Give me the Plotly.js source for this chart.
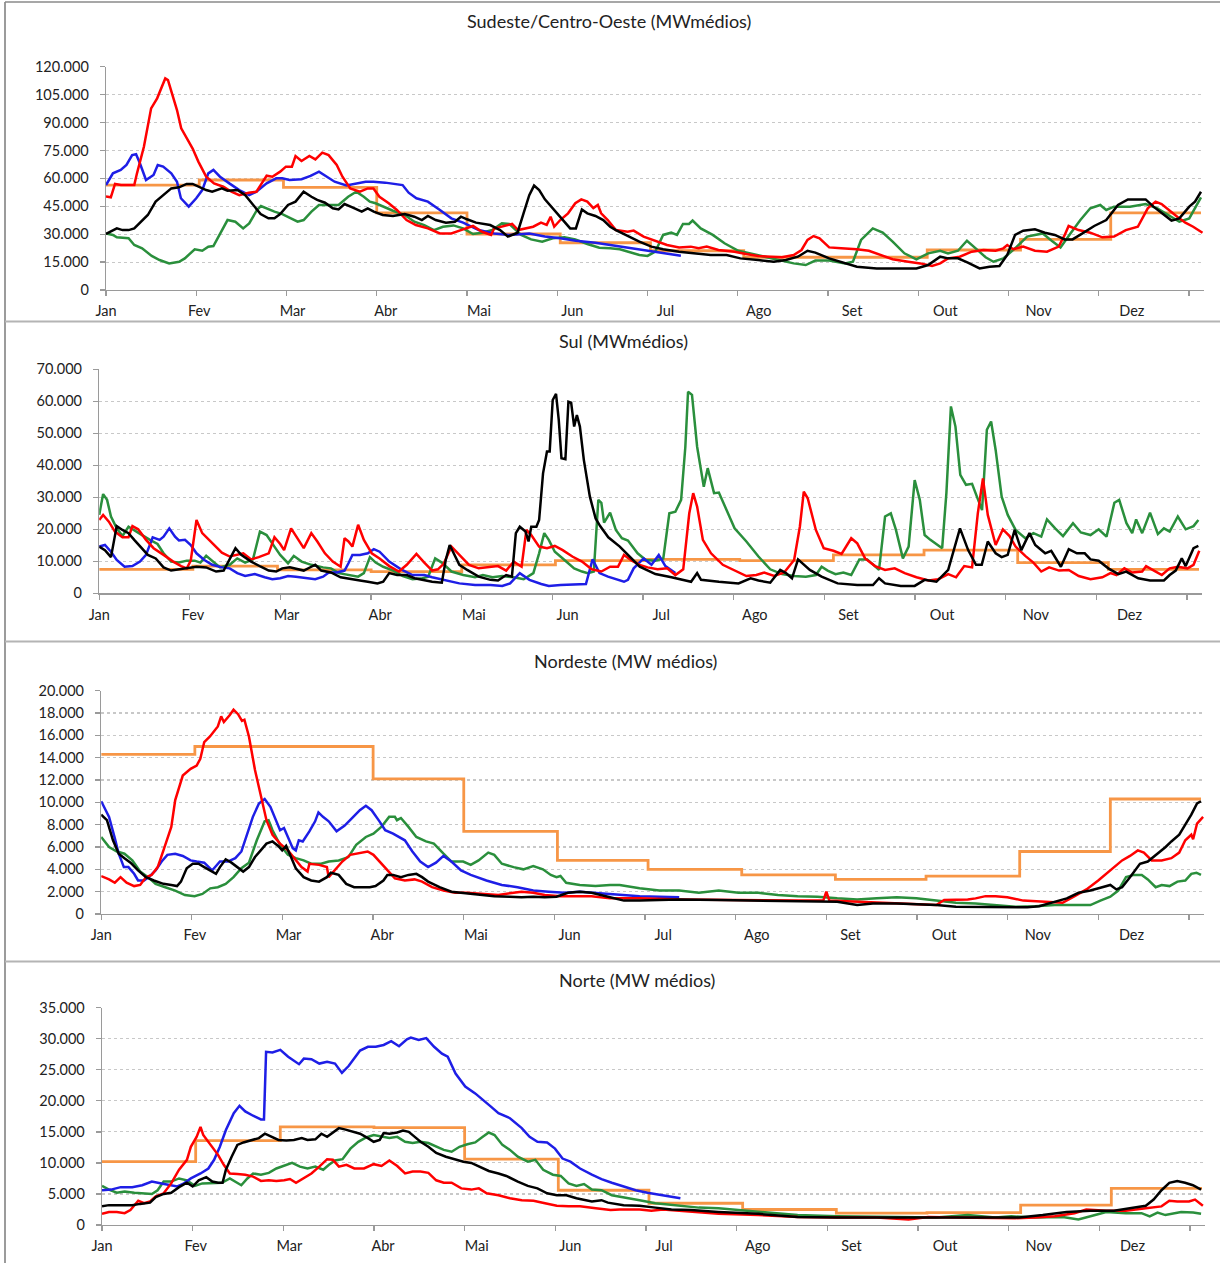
<!DOCTYPE html>
<html>
<head>
<meta charset="utf-8">
<script src="https://cdn.plot.ly/plotly-3.0.1.min.js"></script>
<style>
  html, body { margin: 0; padding: 0; background: #ffffff; }
  #chart { width: 1220px; height: 1267px; }
</style>
</head>
<body>
<div id="chart"></div>
<script>
// ---------------- DATA ----------------
// x = day of year (0 = 1 Jan), y = MWmédios
const monthLabels = ['Jan','Fev','Mar','Abr','Mai','Jun','Jul','Ago','Set','Out','Nov','Dez'];
const monthLabelDays = [0,31,62,93,124,155,186,217,248,279,310,341];
const tickMarkDays = [0,30,60,90,120,150,180,210,240,270,300,330,360];
const monthStartDays = [0,31,59,90,120,151,181,212,243,273,304,334];
const lastDay = 364;

// ---- Sudeste/Centro-Oeste ----
const seRed = [[0,50200],[1.6,49800],[3,57000],[5,56400],[9.4,56400],[10.3,62700],[12.6,77000],[15,97600],[17,103000],[19.7,113700],[20.6,112800],[22.3,104000],[23.6,96700],[25,86900],[26.8,81500],[28.8,76000],[30.7,69000],[33.3,60900],[35.9,57300],[39,55500],[41.7,52800],[44.3,51000],[47.5,52300],[50,52800],[51.4,56400],[53.4,61400],[55.3,60900],[57.9,63600],[59.8,66300],[61.8,66300],[63,72000],[65,69300],[67.6,72000],[69.6,70200],[71.9,73800],[74,72500],[76.7,67200],[78.6,60900],[81.2,54600],[84.4,52800],[87,54600],[88.9,54600],[90.9,50100],[94,46600],[96.7,43000],[99.9,37600],[103,34900],[107,33100],[111,30400],[114.8,30400],[118.7,32600],[122,34400],[125,31300],[128,29600],[129,33000],[133,34400],[135,35500],[137,32200],[139.4,33000],[142,34000],[144.6,36200],[146.5,35000],[147.8,39400],[149,34000],[151,37600],[153.6,41200],[156,46600],[158,48700],[160,47500],[162,44000],[163.5,45700],[164.6,41200],[166.8,37600],[169.5,32200],[173.4,31300],[175.4,31900],[178.7,28700],[182.6,26500],[186.5,24200],[190.5,22900],[194.4,23300],[197,22400],[199.7,23300],[203.6,21500],[208.9,20600],[212.8,19300],[216.8,18300],[220.7,17900],[224.7,17600],[228.6,18800],[231.2,21500],[233.2,26900],[235.2,29000],[237.2,27800],[240.4,22900],[244.4,22400],[249.6,21900],[253.6,21100],[257.5,18800],[261.5,16500],[266.7,15200],[270.7,14300],[274.6,12900],[277.3,14300],[279.9,17000],[283.8,17900],[287.8,20600],[291.7,21500],[295.7,21100],[298.3,22400],[299.6,24200],[301.6,21900],[304.9,23300],[308.8,21100],[312.8,20600],[316.7,23300],[318.7,29600],[320,34400],[323.3,32200],[327.2,30800],[331.2,28300],[335.1,28700],[339,32200],[343,34000],[346.3,43900],[348.9,47500],[350.9,46200],[353.5,42600],[356.1,39400],[358.8,36200],[361.4,34000],[364.5,30800]];
const seBlue = [[0,56400],[2.3,62700],[4.9,64500],[6.8,67200],[8.7,72500],[10,73000],[11.3,68000],[13.3,59100],[15.8,61800],[17.2,67200],[19,66300],[21.7,62700],[23.6,58200],[24.9,49300],[27.5,44800],[30,49300],[32,53700],[34,62700],[35.7,64500],[37.9,60900],[41,57300],[44.3,53700],[47.6,51000],[50,52800],[53.4,57300],[56.6,60000],[58.6,60000],[61,59100],[65,59500],[68,61300],[70.8,63600],[73.4,60900],[76,58200],[79.9,56200],[83,57000],[86.3,58200],[88.9,58200],[92.8,57700],[98.6,56400],[100.6,52300],[103.2,49300],[107,47500],[111,43000],[114.8,38500],[118.7,36200],[123.9,32200],[129,30400],[134,29600],[140.7,30400],[145.9,28700],[151,27800],[156.2,26500],[162.7,25400],[167.6,24200],[170.8,23300],[177.3,21900],[181.3,21100],[185.2,20100],[191.1,18400]];
const seGreen = [[0,30400],[2.3,29600],[3.6,28300],[7.5,27800],[9.4,24200],[12,22400],[15.2,18300],[17.8,16100],[21,14300],[23,14900],[24.3,15200],[26.2,17000],[28.2,19700],[29.5,21900],[32,21100],[34,23300],[35.7,23600],[37.9,30400],[40.4,37600],[43,36700],[45.6,33100],[47.6,35800],[50.2,43000],[51.5,45100],[54,43300],[56,42100],[58.6,40800],[61.1,39000],[63.7,36700],[65.7,37600],[68.3,42100],[70.8,45700],[74,45700],[77.3,45700],[80.5,50100],[83.2,52800],[85.7,50100],[87.7,47500],[89.6,46600],[92,44800],[95.4,42600],[99.3,40300],[102.5,36700],[105.8,34900],[109,32200],[112,34000],[115.5,34700],[118.7,33100],[122,30100],[125,30800],[128.4,32200],[131.6,35800],[134,35500],[138,29600],[141.3,27200],[145,26000],[148.5,27800],[152.4,28300],[156,27200],[160,24700],[164,22700],[167.6,22400],[170.8,21900],[177.3,18800],[180,18300],[182.6,20600],[185.2,29600],[187.9,30800],[189.8,29600],[191.8,35500],[193.8,35500],[195,37300],[197.7,33100],[201.7,29600],[205.6,25100],[210.2,21100],[214.8,19300],[219.4,17600],[223.4,16100],[228.6,14300],[232.6,13400],[235.8,15800],[240.4,15800],[245.7,14300],[248.3,15200],[251,26900],[254.9,33100],[258.2,30800],[261.5,26000],[265.4,19700],[269.4,16500],[273.3,19700],[277.3,21100],[279.9,19700],[283.2,21100],[286.2,26500],[289.1,22400],[292.4,17600],[295,15200],[298.3,17000],[302.2,22400],[306.2,28700],[308.8,29600],[311.4,30400],[314.7,26000],[317.3,22900],[320.6,30400],[323.9,37600],[327.2,43900],[330.5,45700],[332.5,43000],[335.1,44800],[340.4,44800],[345.6,46200],[349.5,43900],[353.5,39800],[356.8,36700],[360.1,38500],[362,43900],[364,49800]];
const seBlack = [[0,30100],[2.3,32200],[3.6,33100],[5.5,32200],[7.5,32200],[9.4,33100],[11.3,36200],[13.9,40300],[16.5,47500],[19.1,51000],[21.7,54600],[24.3,55200],[26.8,57000],[28.8,57000],[30.7,55500],[33.3,53700],[35.3,52800],[38.5,54600],[40.4,53400],[43.7,53700],[46.3,51000],[48.8,45700],[51.4,40800],[54,38500],[56,38500],[57.9,40800],[60.5,45700],[63,47500],[65.7,52800],[68.3,50100],[70.2,48400],[72.8,46900],[75.4,43900],[77.3,43300],[79.3,46200],[81.9,44400],[85,42100],[87,43900],[89,42100],[92,40300],[95.4,39800],[99.3,40800],[102.5,39400],[105,37600],[107,39800],[109.6,37600],[113,36200],[116,36700],[118,39400],[120,38000],[123,36200],[127.7,34900],[131,32200],[133.6,28700],[136.8,30800],[138.8,41200],[140.7,51000],[142.3,56100],[144,53700],[145.9,48700],[148.5,43900],[151.7,37600],[154.3,33100],[156.2,33100],[158.2,43300],[160,41200],[162.7,39800],[165.3,37600],[167.6,34000],[169.5,32200],[173.4,29000],[177.3,26000],[181.3,23300],[185.2,21900],[190.5,20600],[195.8,19700],[201,18800],[206.3,18800],[210.9,17000],[216.8,16100],[222,15200],[226,16100],[230,17900],[233.2,21100],[235.8,20100],[240.4,17000],[245.7,14300],[249.6,12500],[256.2,11600],[262.8,11600],[269.4,11600],[273.3,13400],[277.3,17900],[279.9,17000],[283.2,17000],[286.5,14700],[290.4,11600],[293.7,12500],[297,12900],[299.6,18800],[302.2,29600],[304.9,31900],[308.8,32600],[312.1,30800],[315.4,29600],[318.7,27200],[321.3,27200],[324.6,30400],[328.5,34400],[332.5,37600],[336.4,45700],[339.7,48700],[343,48700],[345.6,48700],[348.2,44800],[350.9,41200],[354.2,37300],[356.8,38500],[360.1,44800],[362,47500],[364,52800]];
const seOrangeMonthly = [56400,59100,55200,41500,30100,25400,21100,17600,17600,21500,27200,41500];

// ---- Sul ----
const sRed = [[0,22900],[1.3,24500],[3.2,22400],[5.2,19300],[7.7,17500],[9.7,17500],[11,21000],[12.9,20000],[15.5,16700],[18,14100],[21.3,12000],[24.5,9900],[27.1,8500],[29,7800],[30.3,10200],[32.2,22900],[34.1,18800],[37.4,15600],[40.6,12700],[43.2,11500],[45.7,12000],[47.7,12500],[50.3,10600],[52.8,11300],[56.1,12500],[58,17500],[59.9,15400],[61.2,13500],[63.5,20300],[65.7,17200],[67.7,14100],[70.2,18800],[72.2,16200],[74.7,12500],[77.3,9900],[79.9,8300],[81.2,17200],[82.5,16200],[83.8,14600],[85.7,21400],[87.6,16700],[90.2,12500],[92.8,10900],[96,8500],[99.2,6800],[101.8,8900],[105,12300],[107.6,9600],[110.2,7100],[112.1,7500],[114,9200],[116.6,14600],[119.2,12000],[122.4,8900],[125.6,7800],[129.5,8300],[132,8500],[134.7,7100],[137.2,9900],[139.8,8300],[141.4,19800],[143,18200],[145.6,14600],[148.2,14100],[150.8,14800],[153.4,13500],[156.6,11500],[159.8,9900],[163,7500],[166.2,6800],[169.1,8300],[171.7,8300],[173.7,12000],[176.3,10200],[178.9,8900],[181.5,8100],[184.8,7500],[188,7800],[190.7,5700],[193.3,7500],[195.3,25000],[196.6,31300],[197.9,27100],[199.8,16700],[202.5,12500],[206.4,8900],[210.3,7100],[214.2,5400],[217.5,5700],[220.1,6500],[223.4,5400],[226.7,6500],[230,10400],[231.9,20800],[233.2,31800],[234.5,29700],[237.2,19800],[239.8,14100],[243,13300],[245.7,12300],[248.9,17200],[250.9,15600],[253.5,10900],[256.8,8500],[260.1,7300],[263.3,7800],[266.6,6300],[270.5,5000],[274.5,4000],[277.7,4400],[281,6000],[283.6,5000],[286.3,8500],[288.9,8100],[290.8,25000],[292.5,35900],[294.1,24500],[296.7,15100],[299.1,20000],[301.3,17900],[303.3,14600],[306.5,11700],[309.2,9600],[311.8,6800],[314.4,8100],[317.7,7100],[320.9,7300],[324.2,5400],[328.1,4400],[332,5000],[334.7,6300],[336.7,5700],[339.3,7800],[341.9,6500],[345.2,6800],[346.5,8500],[349.1,7100],[351.7,5700],[354.3,7800],[357,8300],[360.2,7800],[362.2,8900],[364.1,13300]];
const sBlue = [[0,14600],[1.9,15100],[3.9,13000],[5.8,10400],[8.4,8300],[11,8500],[13.5,9900],[15.5,12000],[17.7,17500],[20,16700],[21.3,17700],[23.2,20300],[25.1,17700],[26.4,16500],[28.4,16700],[30.3,15100],[32.2,12500],[34.8,10400],[37.4,8900],[40.6,8100],[43.2,7800],[45.7,6300],[48.3,5400],[51.5,6000],[54.8,5000],[57.3,4400],[59.9,4700],[62.5,5400],[65.1,5200],[68.3,4700],[71.5,4400],[74.1,5200],[76,6500],[78.6,6500],[81.2,7100],[82.5,9400],[83.8,12000],[86.3,12000],[88.9,12500],[90.9,13800],[92.8,13000],[96,9900],[99.9,7500],[103.7,5700],[107.6,5700],[110.2,5000],[114,4200],[119.2,3100],[124.4,2600],[129.5,2600],[133.4,2300],[136,3100],[139.2,6300],[142.4,4200],[146.3,2900],[148.8,2300],[152.7,2600],[157.9,2900],[161.1,2900],[163.3,10600],[165.6,6300],[168.4,5200],[171,4400],[173.7,3600],[175,4200],[176.9,7800],[180.2,10900],[182.8,8900],[185.2,12000],[187.4,8500],[190.7,6300]];
const sGreen = [[0,24500],[1.3,31000],[2.6,29200],[3.9,24000],[5.8,20300],[7.7,17900],[9.7,20800],[11.6,19600],[14.2,18200],[16.8,16700],[19.3,15400],[21.3,12500],[23.8,9900],[26.4,9600],[29,10200],[31.6,10200],[33.5,9600],[35.4,11700],[37.4,10200],[40,8100],[43.2,8900],[45.7,10900],[48.3,9600],[50.9,10600],[53.2,19300],[55.4,18200],[58,14600],[59.9,12000],[62.5,9400],[64.4,11700],[67,9900],[70.2,8900],[74.1,8100],[76.7,7800],[79.3,6300],[82.5,5700],[85.7,5200],[87.6,6300],[89.6,11300],[91.5,9600],[94,8300],[97.3,7100],[100.5,5400],[103.7,4400],[107,4700],[108.9,5200],[111.2,10900],[113.4,9600],[116.6,6800],[120.5,5700],[124.4,5000],[127,5700],[130.2,5000],[133.4,5400],[137.2,5000],[140.5,4400],[143.7,6300],[145.6,12500],[147.3,18800],[148.8,16700],[150.8,13000],[154,10400],[157.2,7800],[159.8,6800],[161.7,6300],[163.7,6800],[165.2,29200],[166.2,28300],[167.1,22100],[169.1,25200],[171,19800],[173,17200],[175,16500],[178.2,12500],[180.9,10400],[184.1,10200],[186.7,10900],[188.7,25000],[190.7,25500],[192.6,29200],[194,45800],[194.9,63000],[196.2,62000],[197.9,45800],[200.1,33300],[201.4,39100],[203.5,31300],[205.1,31500],[207.7,26000],[210.3,20300],[214.2,16200],[218.2,11500],[222.1,7500],[226,6000],[230,5400],[233.9,5200],[237.2,5700],[239.1,8300],[241.1,7100],[243.7,6000],[246.3,6500],[248.9,5700],[251.6,10600],[254.2,10600],[258.1,7300],[260.1,24000],[262,25000],[263.7,19800],[266,10900],[267.9,14600],[269.9,35400],[271.6,29200],[273.2,18200],[275.1,16700],[279,14100],[280.4,31300],[281.9,58400],[283.4,52100],[285,37000],[286.9,33900],[288.9,34200],[290.2,30700],[292.2,26000],[293.8,51100],[295.2,53700],[296.7,44800],[298.7,30200],[300.7,24500],[303.3,19800],[306.5,17200],[309.2,18800],[311.8,17700],[313.7,23100],[316.4,20300],[319,17900],[322.3,21900],[324.9,19000],[328.1,18200],[330.8,20000],[333.4,17700],[336,28300],[337.6,29200],[340,21900],[341.9,18800],[343.2,23100],[345.2,18800],[347.8,25200],[350.4,18500],[352.4,20300],[354.3,19300],[357,24000],[359.6,20000],[362.2,21000],[363.8,22900]];
const sBlack = [[0,14600],[1.9,13500],[3.9,11300],[5.8,21000],[7.7,19800],[9.7,18800],[11.6,16700],[14.2,14100],[16.1,12000],[18.7,10900],[21.3,8100],[23.8,7100],[26.4,7500],[29.6,7800],[32.2,8300],[35.4,8100],[38.7,6800],[41.2,7100],[43.2,10600],[45.1,14100],[47,12000],[50.3,9900],[53.5,8300],[56.1,7100],[58.6,6800],[60.6,7800],[63.1,8100],[65.7,7500],[67.7,7100],[70.2,8300],[71.5,8900],[73.5,7100],[76.7,6500],[79.9,5000],[83.1,4400],[86.3,4000],[88.9,3600],[92.1,3100],[94,3600],[96,6300],[98.6,5700],[101.8,5700],[104.4,4700],[107,4200],[110.2,3600],[113.4,3300],[114.7,10400],[116,15100],[117.3,12500],[119.2,8900],[121.8,7300],[125.6,5200],[129.5,4200],[132,4000],[134.7,5700],[136.6,5200],[137.9,18800],[139.2,20800],[141.1,19300],[142.1,16200],[143,20800],[144.7,20800],[145.6,22900],[146.9,37500],[148.2,44300],[149.1,44300],[150.1,60400],[151.2,62300],[152.1,54200],[153,42200],[154.3,41900],[155.3,59900],[156.2,59600],[157.2,52100],[158.1,55700],[159.1,52100],[160.4,41700],[162.4,30200],[164.3,23400],[165.8,21000],[168.5,17500],[172.3,14600],[178.9,8300],[184.1,6000],[189.4,5000],[195.9,3600],[197.9,6300],[199.2,4200],[205.1,3600],[211.6,3100],[215.6,4700],[218.2,4000],[222.1,3300],[225.4,7300],[227.3,6300],[229.3,4700],[231.3,10600],[235.2,7300],[239.1,5200],[244.4,3100],[250.9,2600],[256.1,2600],[258.1,4700],[260.1,3100],[265.3,2300],[269.9,2300],[273.2,4200],[277.1,3600],[281,7300],[284.9,20300],[287.6,13500],[290.2,8900],[292.1,8900],[294.1,16200],[296.7,12500],[298.7,11300],[300.7,12000],[303,19800],[305.2,13500],[307.9,18800],[309.8,15100],[313.1,12500],[315.1,13300],[318.3,8300],[320.9,13800],[323.6,12500],[326.2,12500],[328.1,10600],[330.8,10200],[334,7800],[337.3,6000],[339.9,6800],[343.9,4700],[347.8,4000],[352.4,4000],[354.3,5700],[356.3,7100],[358.3,10900],[359.6,8500],[362.2,14100],[363.8,14800]];
const sOrangeMonthly = [7500,8500,7300,6800,8900,10200,10600,10200,12000,13500,9600,7500];

// ---- Nordeste ----
const neRed = [[0,3400],[2.6,3100],[4.5,2800],[6.4,3300],[8.4,2800],[10.9,2500],[12.9,2600],[14.8,3300],[16.7,3500],[18.7,4200],[20.6,5700],[23.2,7800],[24.5,10200],[27,12400],[29.6,13000],[31.6,13300],[32.8,13900],[34.1,15400],[36,15900],[37.3,16300],[38.6,16800],[39.7,17700],[40.6,17200],[42.5,17800],[43.8,18300],[45.3,17900],[46.6,17300],[47.4,17400],[48.9,15900],[50.9,12900],[52.8,10500],[54.7,8400],[56.7,7100],[59.2,6300],[61.8,5700],[64.4,4800],[66.3,4200],[68.3,3800],[68.9,4500],[72.1,4400],[74.7,4200],[75.3,3300],[77.3,3900],[79.8,4700],[82.4,5300],[85.6,5500],[88.2,5600],[90.1,5300],[92.7,4500],[95.3,3700],[97.2,3200],[100.5,3000],[103.7,3100],[106.2,2900],[109.5,2400],[113.3,2100],[117.2,1900],[121,1900],[126.2,1800],[131.4,1700],[136.5,1900],[139.1,2000],[143,1900],[146.8,1700],[152,1600],[157.1,1600],[162.3,1600],[168.4,1400],[178.2,1400],[191.3,1300],[204.4,1250],[217.5,1200],[230.5,1200],[239,1200],[240,2000],[241,1200],[250.2,1100],[263.3,1000],[276.4,800],[279,1250],[286.8,1300],[289.4,1400],[292.7,1600],[296,1600],[299.9,1500],[305.2,1200],[311.7,1100],[318.2,1000],[322.2,1600],[326.1,2200],[330,3000],[334,3900],[337.9,4800],[340.5,5200],[343.1,5700],[345.1,5500],[347.7,4800],[351,4800],[354.2,5000],[356.8,5500],[358.8,6600],[360.8,7100],[361.4,6700],[362.7,8100],[364.7,8700]];
const neBlue = [[0,10100],[2.6,8700],[4.5,6800],[5.8,5400],[7.5,4200],[9,4200],[10.9,3600],[12.2,3000],[14.2,3000],[16.1,3400],[18,3900],[20,4700],[21.9,5300],[24.5,5400],[27,5200],[29.6,4800],[31.6,4700],[34.1,4600],[36.7,3900],[39.3,4700],[41.9,4700],[44.4,5000],[46.4,5600],[48.3,7100],[50.2,8700],[52.2,9900],[54.1,10300],[56,9600],[57.7,8400],[59.2,7500],[60.5,7700],[61.8,6900],[63.4,5900],[64.4,5700],[65.4,6600],[66.7,6500],[68.9,7400],[70.8,8300],[71.9,9100],[73.4,8700],[75.3,8300],[77.9,7400],[80.5,7900],[83.1,8600],[85.6,9300],[87.6,9700],[89.5,9300],[92.1,8300],[94,7500],[96.6,7200],[98.5,6900],[100.5,6600],[103,5600],[105.6,4700],[108.2,4200],[110.8,4600],[113.3,5200],[115.9,4700],[119.1,3900],[122.3,3500],[127.5,3000],[132.6,2600],[137.8,2400],[143,2100],[148.1,2000],[153.3,1900],[158.4,2000],[163.6,1900],[168.4,1800],[178.2,1600],[191.3,1500]];
const neGreen = [[0,6900],[2.6,6000],[5.2,5600],[7.7,5400],[10.3,4800],[12.9,3800],[15.5,3300],[18,2700],[21.2,2400],[24.5,2100],[27.7,1700],[30.9,1600],[33.5,1800],[36.1,2300],[38.6,2400],[41.2,2700],[43.8,3300],[46.4,4100],[48.9,4600],[51.5,6600],[54.1,8300],[55.4,8400],[56.7,7500],[59.2,6200],[61.8,5300],[64.4,5000],[67,4800],[69.5,4500],[72.8,4500],[75.3,4700],[78.6,4800],[81.8,5100],[84.4,6200],[87.6,6900],[90.1,7200],[92.7,7800],[95.3,8700],[97.2,8700],[97.9,8400],[99.2,8600],[101.7,7800],[104.3,6900],[107.5,6500],[110.1,6300],[113.3,5400],[115.9,4700],[119.8,4700],[122.3,4400],[124.9,4800],[128.1,5500],[130.1,5300],[132.6,4500],[136.5,4200],[139.7,4000],[143,4300],[146.2,4000],[148.8,3500],[150.7,3300],[152,3400],[153.9,2800],[158.4,2600],[163.6,2500],[168.4,2600],[171.6,2600],[178.2,2300],[184.7,2100],[191.3,2100],[197.8,1900],[204.4,2100],[210.9,1900],[217.5,1900],[224,1700],[230.5,1600],[237.1,1550],[243.6,1400],[250.2,1300],[256.7,1400],[263.3,1500],[269.8,1400],[276.4,1200],[282.9,1000],[289.4,950],[296,800],[302.5,650],[309.1,700],[315.6,800],[322.2,800],[327.4,800],[330.7,1200],[334,1550],[336.6,2100],[339.2,3300],[341.8,3500],[344.4,3500],[346.4,3100],[349,2400],[351,2600],[353.6,2500],[356.2,2900],[358.8,3000],[360.8,3600],[362.5,3700],[364,3500]];
const neBlack = [[0,8900],[1.9,8400],[3.9,6600],[5.8,5400],[7.7,5000],[9.7,4600],[12.2,3900],[14.8,3300],[17.4,3000],[20.6,2700],[23.2,2600],[25.1,2500],[26.4,2900],[28.3,4100],[30.3,4500],[32.2,4500],[34.1,4200],[36.7,3800],[38,3600],[39.3,4200],[41.2,4900],[43.1,4600],[45.1,4200],[47,3800],[48.9,4200],[50.9,5100],[52.8,5700],[54.7,6300],[56.7,6500],[58.6,6100],[59.9,5700],[61.2,6100],[62.5,5300],[64.4,4100],[67,3300],[69.5,3000],[72.1,2900],[74.7,3300],[76,3700],[78.6,3500],[81.1,2700],[83.7,2400],[86.9,2400],[88.9,2400],[90.8,2500],[93.4,3000],[94.7,3500],[96.6,3500],[99.2,3300],[101.7,3500],[104.3,3600],[106.2,3300],[108.2,2900],[112,2400],[115.9,2000],[119.8,1900],[124.9,1800],[130.1,1600],[135.2,1550],[139.1,1500],[143,1550],[146.8,1500],[150.7,1550],[154.5,1900],[158.4,2000],[162.3,1900],[168.4,1500],[173,1200],[178.2,1200],[191.3,1300],[204.4,1250],[217.5,1200],[230.5,1200],[243.6,1100],[250.2,800],[255.4,950],[263.3,950],[276.4,800],[282.9,650],[296,650],[306.5,600],[310.4,700],[315.6,1100],[319.6,1400],[323.5,1900],[327.4,2100],[331.3,2400],[334,2600],[336,2200],[337.9,2400],[340.5,3300],[343.8,4500],[346.4,4700],[349.7,5400],[352.3,6000],[354.2,6500],[356.8,7100],[358.8,8000],[360.8,8900],[362.7,9900],[364,10100]];
const neOrangeMonthly = [14300,15000,15000,12100,7400,4800,4000,3500,3100,3400,5600,10300];

// ---- Norte ----
const nRed = [[0,1800],[2.3,2100],[4.9,2100],[7.5,1900],[9.4,2400],[12,3900],[13.9,3500],[15.9,3800],[17.8,4600],[20.4,5100],[22.9,6700],[25.5,8900],[28.1,10500],[29.4,12600],[31.3,14200],[32.6,15800],[33.5,14500],[35.8,12900],[38.4,11300],[40.3,9700],[42.3,8300],[44.8,8200],[47.4,8100],[50,7800],[52.6,7100],[55.2,7200],[57.7,7100],[60.3,7200],[62.2,7400],[64.2,6800],[66.8,7500],[69.3,8300],[71.9,9400],[74.5,10600],[76.4,10500],[78.4,9400],[80.9,9700],[83.5,9100],[86.7,9100],[89.9,9800],[92.5,9500],[95.1,10400],[97.7,9500],[100.3,8300],[102.8,8600],[105.4,8600],[108,8400],[110.6,7200],[113.1,6800],[115.7,6800],[118.9,5900],[122.2,5700],[124.7,5900],[127.3,5100],[131.2,4800],[135,4300],[138.9,4000],[142.8,3900],[146.6,3500],[150.5,3100],[154.4,3000],[158.2,3000],[163.4,2700],[168.3,2400],[171.3,2500],[177.9,2500],[181.8,2300],[185.7,2500],[191,2300],[197.5,2000],[204,1800],[217.1,1600],[230.2,1300],[243.3,1200],[256.4,1200],[266.9,900],[273.4,1300],[282.6,1200],[295.6,1100],[302.2,1100],[308.7,1200],[315.3,1400],[321.8,1900],[325.7,2500],[332.3,2300],[338.8,2300],[345.4,2700],[350.6,3000],[353.2,3900],[355.8,3800],[359.7,3800],[361.7,4100],[364.3,3100]];
const nBlue = [[0,5600],[3,5700],[6.2,6100],[10,6100],[13.3,6400],[16.5,7000],[19.7,6700],[22.9,6400],[24.9,6200],[26.8,6600],[29.4,7500],[32.6,8300],[35.2,9100],[37.1,10500],[39,12600],[41,15300],[43.6,18000],[45.5,19200],[47.4,18300],[50,17600],[52.6,17000],[53.6,17000],[54.3,27900],[56.4,27800],[59,28200],[61.6,27100],[63.5,26500],[65.2,25900],[66.8,26800],[69.3,26700],[71.9,26000],[74.5,26300],[77.1,26000],[79.4,24500],[81.6,25600],[83.5,26800],[85.4,28100],[88,28700],[90.6,28700],[93.2,29000],[95.7,29600],[98.3,28800],[100.9,29900],[102.2,30200],[104.8,29800],[107.3,30100],[109.9,28700],[112.5,27600],[114.4,27100],[117,24400],[120.2,22300],[123.5,21200],[126,20100],[128.6,19100],[131.2,18000],[135,17200],[138.9,15600],[141.5,14200],[144.1,13400],[147.3,13300],[149.9,12300],[152.4,10700],[155,10200],[158.2,9100],[162.1,8100],[165.3,7400],[168.7,6800],[172.6,6200],[176.6,5600],[180.5,5200],[185.7,4800],[191.4,4300]];
const nGreen = [[0,6300],[2.3,5700],[4.9,5200],[7.5,5400],[10.7,5200],[13.9,5100],[16.5,5000],[18.4,5600],[20.4,7000],[22.9,7000],[25.5,7500],[28.1,7200],[30.7,6300],[33.2,6700],[36.5,6800],[39.7,6800],[42.3,7500],[44.2,7000],[46.1,6400],[48.1,7500],[50,8300],[52.6,8100],[55.2,8400],[57.7,9100],[60.3,9500],[62.9,10000],[65.5,9400],[68,9100],[70.6,9400],[73.2,8900],[75.1,9700],[77.1,10400],[79.6,10600],[82.2,12300],[84.8,13400],[87.4,14100],[89.9,14500],[92.5,14300],[95.1,14000],[97.7,14200],[100.3,13400],[102.8,13200],[105.4,13400],[108,13200],[110.6,12600],[113.1,12100],[115.7,11800],[118.3,12600],[120.9,13000],[123.5,13300],[126,14200],[128,14900],[129.9,14500],[132.5,12900],[135,12100],[137.6,11000],[140.9,10200],[143.4,10500],[146,8900],[149.2,8100],[151.8,7900],[154.4,6700],[157,6300],[159.5,6600],[162.1,5700],[165.3,5600],[168.7,4800],[172.6,4500],[177.9,4000],[183.1,3500],[191,3100],[197.5,2800],[204,2700],[211.9,2400],[219.8,2000],[230.2,1600],[243.3,1400],[256.4,1300],[266.9,1300],[276,1200],[286.5,1600],[295.6,1200],[300.9,1400],[308.7,1200],[317.9,1300],[323.1,900],[327.1,1400],[332.3,2100],[338.8,1900],[344,1900],[346.7,1400],[349.3,2000],[351.9,1600],[357.1,2100],[361.1,2000],[363.7,1800]];
const nBlack = [[0,3000],[2.3,3200],[6.2,3200],[10,3200],[12.6,3400],[15.9,3600],[17.8,4500],[20.4,5000],[22.9,5200],[25.5,6100],[28.1,6800],[30,6200],[32,7200],[34.5,7700],[36.5,7000],[38.4,6800],[39.9,6800],[41,8900],[42.9,11000],[44.8,12900],[46.8,13300],[49.4,13600],[51.9,14000],[53.9,14700],[55.8,14300],[58.4,13700],[61,13600],[63.5,13700],[66.1,14000],[68,13700],[70.6,13800],[72.6,14700],[74.5,14200],[76.4,14900],[78.4,15600],[80.3,15400],[82.9,15000],[85.4,14700],[88,14000],[89.9,13400],[91.9,13700],[93.2,14800],[95.1,14700],[97.7,14900],[99.6,15200],[101.5,15000],[103.5,14200],[105.4,13400],[108,12600],[110.6,11600],[113.8,11000],[116.4,10600],[119.6,10200],[122.2,10000],[124.7,9400],[128,8700],[131.2,8300],[133.8,7900],[137.6,7000],[140.9,6300],[144.1,5900],[147.3,5100],[150.5,4800],[153.7,4800],[157,4300],[159.5,4000],[162.1,3800],[165.3,4000],[167.4,3600],[172.6,3200],[177.9,3100],[183.1,2800],[188.4,2500],[194.9,2400],[204,2100],[217.1,1800],[230.2,1300],[243.3,1200],[256.4,1200],[269.5,1200],[282.6,1200],[295.6,1100],[303.5,1200],[311.3,1600],[319.2,2100],[327.1,2300],[334.9,2300],[340.1,2700],[345.4,3100],[348,4100],[350.6,5600],[353.2,6800],[355.8,7100],[358.4,6800],[361,6400],[363.7,5700]];
const nOrangeMonthly = [10200,13600,15800,15700,10600,5600,3500,2500,1900,2000,3200,5900];

const panelTitles = ['Sudeste/Centro-Oeste (MWmédios)','Sul (MWmédios)','Nordeste (MW médios)','Norte (MW médios)'];
const panelYMax = [120000, 70000, 20000, 35000];
const panelYStep = [15000, 10000, 2000, 5000];

// ---------------- LAYOUT / STYLE ----------------
const W = 1220, H = 1267;
const FONT = 'Lato, "Open Sans", "DejaVu Sans", sans-serif';
const COLORS = { orange:'#F79646', green:'#2A8F3C', blue:'#1E1EE6', red:'#FF0000', black:'#000000' };

// pixel boxes of each plot area [left, right, top, bottom]
const boxes = [
  [106, 1204, 66.7, 290],
  [99.2, 1202, 369.3, 593.3],
  [101.2, 1204, 690.7, 914],
  [102, 1205, 1007.7, 1225]
];
const titlePos = [[609, 21], [623, 341], [625, 661], [637, 980]];

const panels = [
  {red: seRed, blue: seBlue, green: seGreen, black: seBlack, orange: seOrangeMonthly},
  {red: sRed, blue: sBlue, green: sGreen, black: sBlack, orange: sOrangeMonthly},
  {red: neRed, blue: neBlue, green: neGreen, black: neBlack, orange: neOrangeMonthly},
  {red: nRed, blue: nBlue, green: nGreen, black: nBlack, orange: nOrangeMonthly}
];

const traces = [];
const layout = {
  width: W, height: H,
  margin: {l:0, r:0, t:0, b:0, pad:0},
  paper_bgcolor: '#ffffff', plot_bgcolor: 'rgba(0,0,0,0)',
  showlegend: false,
  separators: ',.',
  font: {family: FONT, size: 14, color: '#222'},
  annotations: [], shapes: []
};

panels.forEach((p, i) => {
  const n = i + 1;
  const xa = n === 1 ? 'x' : 'x' + n;
  const ya = n === 1 ? 'y' : 'y' + n;
  const xLabelAxisNum = n + 4;
  const [l, r, t, b] = boxes[i];
  const xdom = [l / W, r / W];
  const ydom = [1 - b / H, 1 - t / H];

  const addLine = (pts, color, width) => traces.push({
    type: 'scatter', mode: 'lines', xaxis: xa, yaxis: ya,
    x: pts.map(q => q[0]), y: pts.map(q => q[1]),
    line: {color: color, width: width, shape: 'linear'},
    hoverinfo: 'skip'
  });
  // orange monthly step
  traces.push({
    type: 'scatter', mode: 'lines', xaxis: xa, yaxis: ya,
    x: monthStartDays.concat([lastDay]),
    y: p.orange.concat([p.orange[p.orange.length - 1]]),
    line: {color: COLORS.orange, width: 2.8, shape: 'hv'},
    hoverinfo: 'skip'
  });
  addLine(p.green, COLORS.green, 2.5);
  addLine(p.blue, COLORS.blue, 2.5);
  addLine(p.red, COLORS.red, 2.5);
  addLine(p.black, COLORS.black, 2.5);

  const yvals = [];
  for (let v = 0; v <= panelYMax[i] + 1; v += panelYStep[i]) yvals.push(v);

  layout['xaxis' + (n === 1 ? '' : n)] = {
    domain: xdom, anchor: ya, range: [0, 365], fixedrange: true,
    showgrid: false, zeroline: false,
    showline: true, linecolor: '#9a9a9a', linewidth: 1.3,
    tickmode: 'array', tickvals: tickMarkDays, ticktext: tickMarkDays.map(() => ''),
    ticks: 'outside', ticklen: 5, tickwidth: 1.3, tickcolor: '#9a9a9a'
  };
  layout['xaxis' + xLabelAxisNum] = {
    domain: xdom, anchor: ya, overlaying: xa, range: [0, 365], fixedrange: true,
    showgrid: false, zeroline: false, showline: false,
    tickmode: 'array', tickvals: monthLabelDays, ticktext: monthLabels,
    ticks: 'outside', ticklen: 8, tickcolor: 'rgba(0,0,0,0)',
    tickfont: {family: FONT, size: 14.5, color: '#222'}
  };
  layout['yaxis' + (n === 1 ? '' : n)] = {
    domain: ydom, anchor: xa, range: [0, panelYMax[i]], fixedrange: true,
    tickmode: 'array', tickvals: yvals,
    tickformat: ',d',
    showgrid: true, gridcolor: '#c8c8c8', gridwidth: 1.1, griddash: 'dot',
    zeroline: false,
    showline: true, linecolor: '#9a9a9a', linewidth: 1.3,
    ticks: 'outside', ticklen: 5, tickwidth: 1.3, tickcolor: '#9a9a9a',
    ticklabelstandoff: 8,
    tickfont: {family: FONT, size: 14.5, color: '#222'}
  };
  // dummy trace so the label axis is drawn
  traces.push({type: 'scatter', mode: 'lines', xaxis: 'x' + xLabelAxisNum, yaxis: ya,
    x: [0, 365], y: [null, null], hoverinfo: 'skip', showlegend: false});

  layout.annotations.push({
    text: panelTitles[i], showarrow: false,
    xref: 'paper', yref: 'paper', x: titlePos[i][0] / W, y: 1 - titlePos[i][1] / H,
    xanchor: 'center', yanchor: 'middle',
    font: {family: FONT, size: 18, color: '#222'}
  });
});

// panel frames
const px = v => v / W, py = v => 1 - v / H;
layout.shapes.push({type:'line', xref:'paper', yref:'paper', x0: px(5), x1: px(5), y0: py(2), y1: py(1263), line:{color:'#7a7a7a', width:1.5}});
layout.shapes.push({type:'line', xref:'paper', yref:'paper', x0: px(5), x1: 1, y0: py(2), y1: py(2), line:{color:'#8a8a8a', width:1.5}});
[321.5, 641.5, 961.5].forEach(yy => layout.shapes.push({type:'line', xref:'paper', yref:'paper', x0: px(5), x1: 1, y0: py(yy), y1: py(yy), line:{color:'#b4b4b4', width:2.2}}));

Plotly.newPlot('chart', traces, layout, {staticPlot: true, displayModeBar: false});
</script>
</body>
</html>
